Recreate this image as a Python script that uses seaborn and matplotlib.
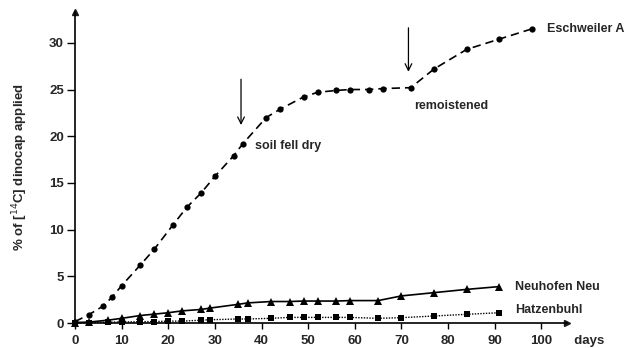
import matplotlib
matplotlib.use("Agg")
import matplotlib.pyplot as plt
import seaborn as sns
import pandas as pd

sns.set_theme(style="white")
plt.rcParams['font.family'] = ['Liberation Sans', 'DejaVu Sans']

# Eschweiler A (circles, dashed)
esch_days = [0, 3, 6, 8, 10, 14, 17, 21, 24, 27, 30, 34, 36, 41, 44, 49, 52, 56, 59, 63, 66, 72, 77, 84, 91, 98]
esch_vals = [0.15, 0.9, 1.8, 2.8, 4.0, 6.2, 7.9, 10.5, 12.4, 13.9, 15.7, 17.9, 19.2, 22.0, 22.9, 24.2, 24.7, 24.9, 25.0, 25.0, 25.1, 25.2, 27.2, 29.3, 30.4, 31.5]

# Neuhofen Neu (triangles, solid)
neu_days = [0, 3, 7, 10, 14, 17, 20, 23, 27, 29, 35, 37, 42, 46, 49, 52, 56, 59, 65, 70, 77, 84, 91]
neu_vals = [0.05, 0.1, 0.3, 0.5, 0.8, 0.95, 1.1, 1.3, 1.45, 1.6, 2.0, 2.15, 2.3, 2.3, 2.35, 2.35, 2.35, 2.4, 2.4, 2.9, 3.25, 3.6, 3.9]

# Hatzenbuhl (squares, dotted)
hatz_days = [0, 3, 7, 10, 14, 17, 20, 23, 27, 29, 35, 37, 42, 46, 49, 52, 56, 59, 65, 70, 77, 84, 91]
hatz_vals = [0.0, 0.05, 0.1, 0.1, 0.15, 0.15, 0.2, 0.2, 0.3, 0.35, 0.43, 0.43, 0.5, 0.6, 0.6, 0.6, 0.6, 0.6, 0.5, 0.57, 0.75, 0.93, 1.1]

x_ticks = [0, 10, 20, 30, 40, 50, 60, 70, 80, 90, 100]
y_ticks = [0, 5, 10, 15, 20, 25, 30]

fig = plt.figure(figsize=(6.26, 3.48), dpi=100)
ax = fig.add_axes([75/626, 25/348, 492/626, 311/348])

df_e = pd.DataFrame({"day": esch_days, "val": esch_vals})
df_n = pd.DataFrame({"day": neu_days, "val": neu_vals})
df_h = pd.DataFrame({"day": hatz_days, "val": hatz_vals})

sns.lineplot(data=df_e, x="day", y="val", ax=ax, color="black", marker="o",
             markersize=4.5, markeredgewidth=0, linewidth=1.2,
             linestyle=(0, (5, 3)), clip_on=False)
sns.lineplot(data=df_n, x="day", y="val", ax=ax, color="black", marker="^",
             markersize=5.5, markeredgewidth=0, linewidth=1.2, clip_on=False)
sns.lineplot(data=df_h, x="day", y="val", ax=ax, color="black", marker="s",
             markersize=5, markeredgewidth=0, linewidth=1.0,
             linestyle=(0, (1, 1)), clip_on=False)

ax.set_xlim(0, 105.5)
ax.set_ylim(0, 33.3)
ax.set_xticks(x_ticks)
ax.set_yticks(y_ticks)
ax.tick_params(axis="x", which="both", direction="out", length=4, width=1,
               color="black", labelsize=9.5, bottom=True, pad=5)
ax.tick_params(axis="y", which="both", direction="out", length=6, width=1,
               color="black", labelsize=9.5, left=True, pad=2)
for lab in ax.get_xticklabels() + ax.get_yticklabels():
    lab.set_fontweight("bold")
ax.set_xlabel("")
ax.set_ylabel("% of [$^{14}$C] dinocap applied", fontsize=9.5, fontweight="bold",
              labelpad=14)
for s in ["top", "right"]:
    ax.spines[s].set_visible(False)
for s in ["left", "bottom"]:
    ax.spines[s].set_color("black")
    ax.spines[s].set_linewidth(1.2)
ax.grid(False)

# axis arrows
ax.plot(1, 0, ">k", markersize=5, transform=ax.get_yaxis_transform(), clip_on=False)
ax.plot(0, 1, "^k", markersize=5, transform=ax.get_xaxis_transform(), clip_on=False)

ax.text(1.0, -0.058, "  days", transform=ax.transAxes, fontsize=9.5,
        fontweight="bold", va="center", ha="left")

# annotations
ax.annotate("", xy=(35.6, 20.9), xytext=(35.6, 26.4),
            arrowprops=dict(arrowstyle="->", color="black", lw=0.9))
ax.annotate("", xy=(71.5, 26.6), xytext=(71.5, 31.9),
            arrowprops=dict(arrowstyle="->", color="black", lw=0.9))
ax.text(38.6, 18.9, "soil fell dry", fontsize=9, fontweight="bold", va="center")
ax.text(72.7, 23.2, "remoistened", fontsize=9, fontweight="bold", va="center")
ax.text(101.2, 31.5, "Eschweiler A", fontsize=9, fontweight="bold", va="center")
ax.text(94.3, 3.9, "Neuhofen Neu", fontsize=9, fontweight="bold", va="center")
ax.text(94.3, 1.4, "Hatzenbuhl", fontsize=9, fontweight="bold", va="center")

fig.savefig("out.png", dpi=100)
